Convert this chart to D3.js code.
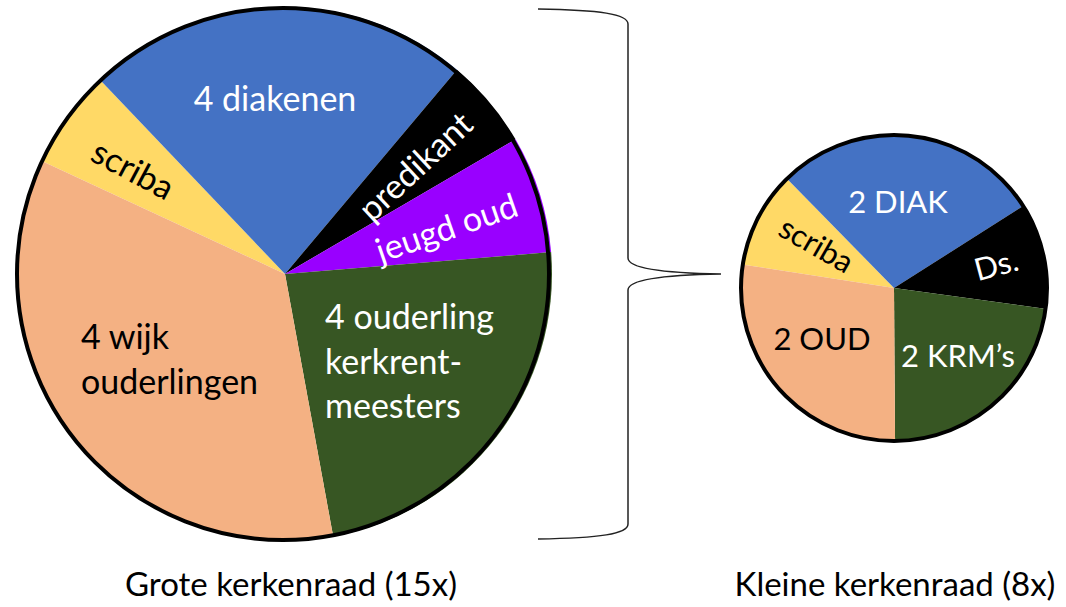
<!DOCTYPE html>
<html>
<head>
<meta charset="utf-8">
<script src="https://cdn.jsdelivr.net/npm/d3@7"></script>
<style>
  body { margin: 0; background: #fff; }
  text { font-family: Lato, "Open Sans", sans-serif; }
</style>
</head>
<body>
<div id="canvas"></div>
<script>
"use strict"

/* canvas size, same as the browser window */
let svgWidth = 1066;
let svgHeight = 607;

/* slice sizes (degrees of the circle), clockwise from the scriba slice */
let groteNames = ["scriba", "diakenen", "predikant", "jeugd oud", "kerkrentmeesters", "wijk ouderlingen"];
let groteValues = [21.5, 83.7, 19.6, 25.6, 84.3, 125.3];
let kleineNames = ["scriba", "DIAK", "Ds.", "KRM", "OUD"];
let kleineValues = [36.8, 102, 40.2, 81.8, 99.2];

let sliceColors = {
    "scriba": "#FFD966",
    "diakenen": "#4472C4",
    "DIAK": "#4472C4",
    "predikant": "#000000",
    "Ds.": "#000000",
    "jeugd oud": "#9900FF",
    "kerkrentmeesters": "#375623",
    "KRM": "#375623",
    "wijk ouderlingen": "#F4B183",
    "OUD": "#F4B183"
};

let captions = ["Grote kerkenraad (15x)", "Kleine kerkenraad (8x)"];

/* label text per pie; offsets are from the pie centre, lines stack downwards */
let groteLabels = [
    {lines: ["4 diakenen"], dx: -10, dy: -163, rot: 0, color: "#fff", anchor: "middle"},
    {lines: ["scriba"], dx: -151, dy: -106, rot: 28, color: "#000", anchor: "middle", mid: true},
    {lines: ["predikant"], dx: 129, dy: -109, rot: -43, color: "#fff", anchor: "middle", mid: true},
    {lines: ["jeugd oud"], dx: 161, dy: -48, rot: -19, color: "#fff", anchor: "middle", mid: true},
    {lines: ["4 ouderling", "kerkrent-", "meesters"], dx: 40, dy: 55, rot: 0, color: "#fff", anchor: "start"},
    {lines: ["4 wijk", "ouderlingen"], dx: -204, dy: 75, rot: 0, color: "#000", anchor: "start"}
];
let kleineLabels = [
    {lines: ["2 DIAK"], dx: 4, dy: -75, rot: 0, color: "#fff", anchor: "middle"},
    {lines: ["scriba"], dx: -77, dy: -44, rot: 30, color: "#000", anchor: "middle", mid: true},
    {lines: ["Ds."], dx: 102, dy: -24, rot: -15, color: "#fff", anchor: "middle", mid: true},
    {lines: ["2 OUD"], dx: -72, dy: 62, rot: 0, color: "#000", anchor: "middle"},
    {lines: ["2 KRM\u2019s"], dx: 64, dy: 79, rot: 0, color: "#fff", anchor: "middle"}
];

let svg = d3.select("#canvas")
    .append("svg")
    .attr("width", svgWidth)
    .attr("height", svgHeight);

function toRad(deg) {
    return deg * Math.PI / 180;
}

/* draws one pie with its black rim and labels */
function drawPie(names, values, labels, cx, cy, r, startDeg, rimShift, fontSize, lineGap) {
    let start = toRad(startDeg);
    let pie = d3.pie()
        .sort(null)
        .value(function (d) { return d; })
        .startAngle(start)
        .endAngle(start + 2 * Math.PI);

    let arc = d3.arc()
        .innerRadius(0)
        .outerRadius(r);

    let g = svg.append("g")
        .attr("transform", "translate(" + cx + "," + cy + ")");

    g.selectAll("path")
        .data(pie(values))
        .join("path")
        .attr("d", arc)
        .attr("fill", function (d, i) { return sliceColors[names[i]]; });

    g.append("circle")
        .attr("cx", rimShift)
        .attr("r", r - 1)
        .attr("fill", "none")
        .attr("stroke", "#000")
        .attr("stroke-width", 4);

    labels.forEach(function (lab) {
        let t = g.append("text")
            .attr("transform", "translate(" + lab.dx + "," + lab.dy + ") rotate(" + lab.rot + ")")
            .attr("text-anchor", lab.anchor)
            .attr("fill", lab.color)
            .attr("font-size", fontSize);
        if (lab.mid) t.attr("dominant-baseline", "central");
        lab.lines.forEach(function (line, i) {
            t.append("tspan")
                .attr("x", 0)
                .attr("y", i * lineGap)
                .text(line);
        });
    });
}

drawPie(groteNames, groteValues, groteLabels, 285, 274, 267, -65.1, -2, 34, 44.5);
drawPie(kleineNames, kleineValues, kleineLabels, 894, 288, 154, -81.2, 0, 31, 44);

/* curly brace between the two pies */
let brace = d3.path();
brace.moveTo(538, 9);
brace.bezierCurveTo(600, 10, 628, 14, 628, 24);
brace.lineTo(628, 258);
brace.bezierCurveTo(628, 268, 660, 273, 721, 274);
brace.bezierCurveTo(660, 275, 628, 280, 628, 290);
brace.lineTo(628, 524);
brace.bezierCurveTo(628, 534, 600, 538, 538, 539);

svg.append("path")
    .attr("d", brace.toString())
    .attr("fill", "none")
    .attr("stroke", "#222")
    .attr("stroke-width", 1.5);

/* captions under each pie */
let captionX = [291, 895];
svg.selectAll(".caption")
    .data(captions)
    .join("text")
    .attr("class", "caption")
    .attr("x", function (d, i) { return captionX[i]; })
    .attr("y", 596)
    .attr("text-anchor", "middle")
    .attr("font-size", 33)
    .attr("fill", "#000")
    .text(function (d) { return d; });
</script>
</body>
</html>
